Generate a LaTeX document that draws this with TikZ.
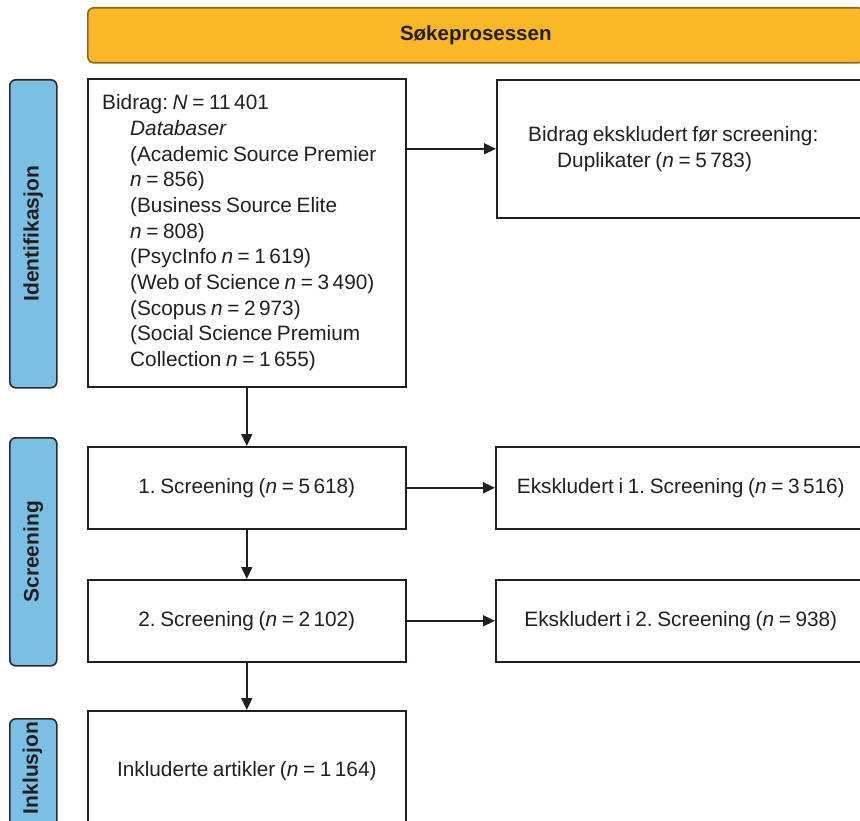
\documentclass[tikz,border=0pt]{standalone}
\usepackage{fontspec}
\setmainfont[WordSpace=0.8]{Liberation Sans}
\usetikzlibrary{arrows.meta}
\frenchspacing
\definecolor{inkc}{HTML}{231F20}
\definecolor{headfill}{HTML}{FBB826}
\definecolor{headline}{HTML}{8A6A1E}
\definecolor{phasefill}{HTML}{7CBFE5}
\definecolor{phaseline}{HTML}{2B2B2B}
\tikzset{
  flowbox/.style={draw=inkc, line width=1.6pt, fill=white, anchor=north west,
    inner sep=0pt, font=\fontsize{20.8}{25.7}\selectfont, text=inkc},
  flowtext/.style={inner sep=0pt, align=left, anchor=west,
    font=\fontsize{20.8}{25.7}\selectfont, text=inkc},
  phase/.style={draw=phaseline, line width=1.6pt, fill=phasefill, rounded corners=6pt,
    anchor=north west, inner sep=0pt},
  phaselabel/.style={rotate=90, font=\bfseries\fontsize{21}{22}\selectfont, text=inkc},
  arr/.style={draw=inkc, line width=1.6pt, -{Triangle[length=12pt,width=11pt]}},
}
\begin{document}
\begin{tikzpicture}[x=1pt,y=-1pt]
\useasboundingbox (0,0) rectangle (860,821);
\clip (0,0) rectangle (860,821);
% header bar
\node[draw=headline, line width=1.6pt, fill=headfill, rounded corners=6pt, anchor=north west,
  minimum width=776pt, minimum height=55pt, inner sep=0pt,
  font=\bfseries\fontsize{20.5}{22}\selectfont, text=inkc] (head) at (87,7) {Søkeprosessen};
% phase bars
\node[phase, minimum width=47pt, minimum height=308pt] (pid) at (9,79) {};
\node[phaselabel] (lid) at (pid.center) {Identifikasjon};
\node[phase, minimum width=47pt, minimum height=228pt] (psc) at (9,437) {};
\node[phaselabel] (lsc) at (psc.center) {Screening};
\node[phase, minimum width=47pt, minimum height=140pt] (pin) at (9,718) {};
\node[phaselabel, anchor=center] (lin) at (32.5,768) {Inklusjon};
% flow boxes
\node[flowbox, minimum width=318pt, minimum height=308pt] (b1) at (87,78) {};
\node[flowtext] (b1t) at ([xshift=15pt]b1.west) {%
  Bidrag: \textit{N} = 11\,401\\
  \hspace*{28pt}\textit{Databaser}\\
  \hspace*{28pt}(Academic Source Premier\\
  \hspace*{28pt}\textit{n} = 856)\\
  \hspace*{28pt}(Business Source Elite\\
  \hspace*{28pt}\textit{n} = 808)\\
  \hspace*{28pt}(PsycInfo \textit{n} = 1\,619)\\
  \hspace*{28pt}(Web of Science \textit{n} = 3\,490)\\
  \hspace*{28pt}(Scopus \textit{n} = 2\,973)\\
  \hspace*{28pt}(Social Science Premium\\
  \hspace*{28pt}Collection \textit{n} = 1\,655)};
\node[flowbox, minimum width=384pt, minimum height=138pt] (dup) at (496,79) {};
\node[flowtext] (dupt) at ([xshift=32pt]dup.west) {%
  Bidrag ekskludert før screening:\\
  \hspace*{29pt}Duplikater (\textit{n} = 5\,783)};
\node[flowbox, minimum width=318pt, minimum height=82pt] (s1) at (87,446)
  {1. Screening (\textit{n} = 5\,618)};
\node[flowbox, minimum width=370pt, minimum height=82pt] (e1) at (495,446)
  {Ekskludert i 1. Screening (\textit{n} = 3\,516)};
\node[flowbox, minimum width=318pt, minimum height=82pt] (s2) at (87,579)
  {2. Screening (\textit{n} = 2\,102)};
\node[flowbox, minimum width=370pt, minimum height=82pt] (e2) at (495,579)
  {Ekskludert i 2. Screening (\textit{n} = 938)};
\node[flowbox, minimum width=318pt, minimum height=120pt] (inc) at (87,710)
  {Inkluderte artikler (\textit{n} = 1\,164)};
% connectors
\draw[arr] (b1.east |- dup.west) -- (dup.west);
\draw[arr] (b1.south) -- (s1.north);
\draw[arr] (s1.east) -- (e1.west);
\draw[arr] (s1.south) -- (s2.north);
\draw[arr] (s2.east) -- (e2.west);
\draw[arr] (s2.south) -- (inc.north);
\end{tikzpicture}
\end{document}
